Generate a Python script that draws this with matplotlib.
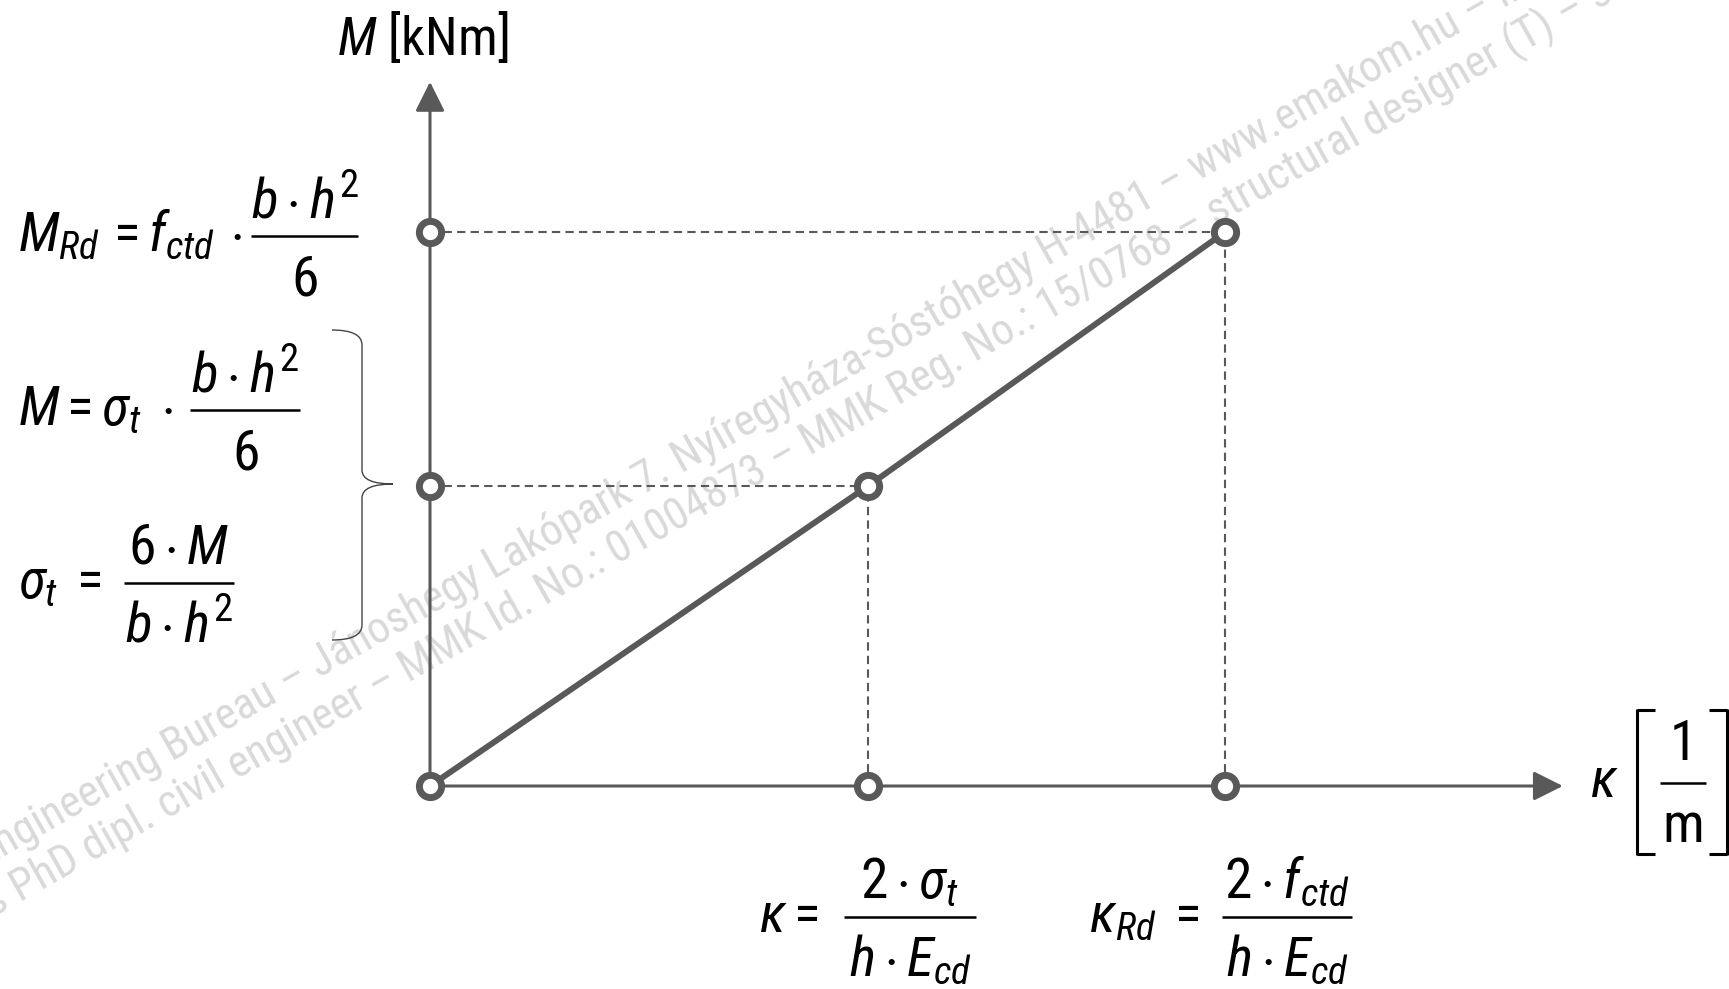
import matplotlib
matplotlib.use('Agg')
import matplotlib.pyplot as plt
from matplotlib import font_manager
from matplotlib.lines import Line2D
from matplotlib.path import Path
from matplotlib.patches import PathPatch
from matplotlib.transforms import Affine2D

# curvature / moment points (kappa_Rd and M_Rd taken as 1)
kappa = [0.0, 0.551, 1.0]
moment = [0.0, 0.5415, 1.0]

W, H = 1729, 989
GREY = '#595959'


def pick_font(names):
    for name in names:
        try:
            font_manager.findfont(font_manager.FontProperties(family=name),
                                  fallback_to_default=False)
            return name
        except ValueError:
            pass
    return 'DejaVu Sans'


FONT = pick_font(['Liberation Sans Narrow', 'Arial Narrow', 'Roboto Condensed',
                  'Liberation Sans'])
plt.rcParams['font.family'] = [FONT, 'DejaVu Sans']
plt.rcParams['mathtext.fontset'] = 'custom'
plt.rcParams['mathtext.rm'] = FONT
plt.rcParams['mathtext.it'] = FONT + ':italic'
plt.rcParams['mathtext.bf'] = FONT + ':bold'

fig = plt.figure(figsize=(W / 100, H / 100), dpi=100)
ax = fig.add_axes([0, 0, 1, 1])
ax.set_xlim(-430 / 795, (W - 430) / 795)
ax.set_ylim(-(H - 786) / 554, 786 / 554)
ax.axis('off')

# pixel coordinates measured from the top-left corner
px = Affine2D().scale(1, -1).translate(0, H)

# watermark
wm = dict(transform=px, rotation=29.5, rotation_mode='anchor', ha='left',
          va='baseline', fontsize=32, color='#d9d9d9', zorder=0)
ax.text(-16, 868, 'Engineering Bureau \u2013 J\u00e1noshegy Lak\u00f3park 7. '
        'Ny\u00edregyh\u00e1za-S\u00f3st\u00f3hegy H-4481 \u2013 www.emakom.hu \u2013 info',
        **wm)
ax.text(-6, 918, 's PhD dipl. civil engineer \u2013 MMK Id. No.: 01004873 \u2013 '
        'MMK Reg. No.: 15/0768 \u2013 structural designer (T) \u2013 structural', **wm)

# axes with arrow heads
arrow = dict(arrowstyle='-|>,head_length=0.4,head_width=0.2', mutation_scale=45,
             lw=2.2, color=GREY, shrinkA=0, shrinkB=0)
ax.annotate('', xy=(1.425, 0), xytext=(0, 0), arrowprops=arrow, zorder=2)
ax.annotate('', xy=(0, 1.271), xytext=(0, 0), arrowprops=arrow, zorder=2)

# projection lines
dash = dict(color=GREY, lw=1.5, dashes=(4, 2.5), zorder=2)
ax.plot([0, kappa[2]], [moment[2], moment[2]], **dash)
ax.plot([0, kappa[1]], [moment[1], moment[1]], **dash)
ax.plot([kappa[1], kappa[1]], [0, moment[1]], **dash)
ax.plot([kappa[2], kappa[2]], [0, moment[2]], **dash)

# M-kappa line
ax.plot(kappa, moment, color=GREY, lw=4.3, solid_capstyle='round', zorder=3)

mk = dict(ls='none', marker='o', ms=16, mew=5, mec=GREY, mfc='white', zorder=4)
ax.plot(kappa, moment, **mk)
ax.plot(kappa[1:], [0, 0], **mk)
ax.plot([0, 0], moment[1:], **mk)

fs = 40


def seg(x0, y0, x1, y1, lw=1.8):
    ax.add_line(Line2D([x0, x1], [y0, y1], transform=px, color='black', lw=lw,
                       solid_capstyle='butt'))


def formula(x, y, lhs, bar, num, den, fsize=fs):
    """lhs on baseline y, then a fraction whose bar spans bar=(x0, x1)."""
    ax.text(x, y, lhs, transform=px, va='baseline', fontsize=fsize)
    ybar = y - 15
    xc = (bar[0] + bar[1]) / 2
    seg(bar[0], ybar, bar[1], ybar)
    ax.text(xc, ybar - 19, num, transform=px, ha='center', va='baseline', fontsize=fsize)
    ax.text(xc, ybar + 59, den, transform=px, ha='center', va='baseline', fontsize=fsize)


ax.text(423, 55, r'$M$ [kNm]', transform=px, ha='center', va='baseline', fontsize=38)

formula(18, 251, r'$M_{Rd}\,=f_{ctd}\,\cdot$', (251, 358), r'$b\cdot h^{2}$', r'$6$')
formula(18, 425, r'$M=\sigma_t\;\cdot$', (190, 300), r'$b\cdot h^{2}$', r'$6$')
formula(18, 598, r'$\sigma_t\;=$', (124, 234), r'$6\cdot M$', r'$b\cdot h^{2}$')
formula(759, 932, r'$\kappa=$', (844, 976), r'$2\cdot\sigma_t$', r'$h\cdot E_{cd}$')
formula(1089, 932, r'$\kappa_{Rd}\;=$', (1222, 1352), r'$2\cdot f_{ctd}$',
        r'$h\cdot E_{cd}$')

# curvature unit [1/m]
ax.text(1590, 797, r'$\kappa$', transform=px, va='baseline', fontsize=fs)
seg(1660, 783, 1706, 783)
ax.text(1683, 760, '1', transform=px, ha='center', va='baseline', fontsize=fs)
ax.text(1683, 842, 'm', transform=px, ha='center', va='baseline', fontsize=fs)
for xv, xs in ((1637, 1655), (1727, 1709)):
    seg(xv, 709, xv, 855, lw=2.2)
    seg(xv, 710, xs, 710, lw=2.2)
    seg(xv, 854, xs, 854, lw=2.2)

# brace grouping the two stress formulas
brace = Path([(332, 330), (362, 330), (362, 345), (362, 470), (362, 484), (393, 484),
              (362, 484), (362, 498), (362, 625), (362, 640), (332, 640)],
             [Path.MOVETO, Path.CURVE3, Path.CURVE3, Path.LINETO, Path.CURVE3,
              Path.CURVE3, Path.CURVE3, Path.CURVE3, Path.LINETO, Path.CURVE3,
              Path.CURVE3])
ax.add_patch(PathPatch(brace, transform=px, fill=False, lw=1.0, ec='#444444'))

fig.savefig('out.png', dpi=100)
